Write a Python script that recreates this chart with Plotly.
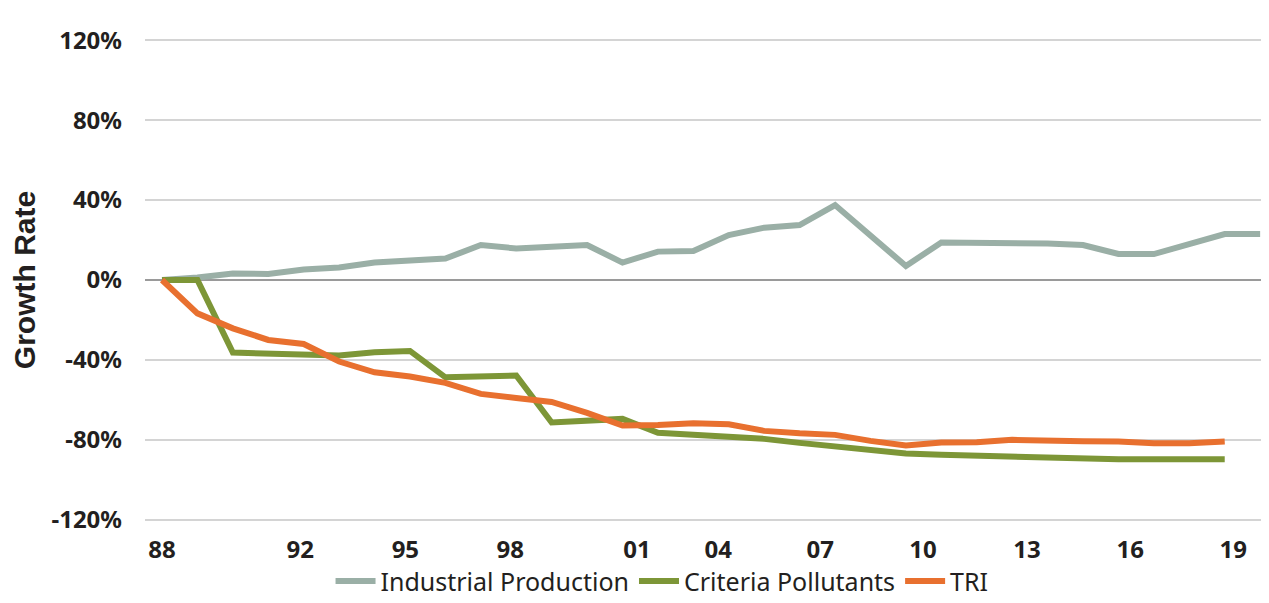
import plotly.graph_objects as go

# growth since 1988, in percent
years = list(range(1988, 2020))
industrial_production = [
    0, 1.2, 3.3, 3.0, 5.3, 6.3, 8.7, 10.0, 10.7, 17.5, 15.8, 16.7, 17.5,
    8.7, 14.2, 14.5, 22.5, 26.2, 27.5, 37.5, 22.0, 7.0, 18.8, 18.8, 18.8,
    18.3, 17.5, 13.0, 13.0, 18.0, 23.0, 23.0,
]
criteria_pollutants = [
    0, 0, -36.3, -36.7, -36.8, -37.8, -36.2, -35.5, -48.7, -48.3, -47.8,
    -71.3, -70.5, -69.5, -76.5, -77.3, -78.5, -79.5, -81.5, -83.5, -85.5,
    -86.8, -87.5, -88.0, -88.7, -89.0, -89.5, -89.7, -89.7, -89.7, -89.7,
]
tri = [
    0, -16.7, -24.2, -30.0, -32.0, -40.8, -46.2, -48.3, -51.5, -57.0, -59.0,
    -61.0, -66.5, -72.8, -72.5, -71.7, -72.2, -75.5, -76.7, -77.5, -80.5,
    -82.8, -81.3, -81.2, -80.0, -80.0, -80.7, -80.8, -81.7, -81.7, -80.8,
]

# x tick labels as they sit in the original (slightly off the year grid)
x_tick_text = ["88", "92", "95", "98", "01", "04", "07", "10", "13", "16", "19"]
x_tick_at = [1988.0, 1991.9, 1994.87, 1997.83, 2001.41, 2003.7, 2006.58,
             2009.48, 2012.42, 2015.33, 2018.24]
y_ticks = [-120, -80, -40, 0, 40, 80, 120]
y_tick_text = ["-120%", "-80%", "-40%", "0%", "40%", "80%", "120%"]

series = [
    ("Industrial Production", years, industrial_production, "#9aafa6"),
    ("Criteria Pollutants", years[:31], criteria_pollutants, "#7d9637"),
    ("TRI", years[:31], tri, "#e8702f"),
]

fig = go.Figure()
for name, xs, ys, color in series:
    fig.add_trace(
        go.Scatter(
            x=xs,
            y=ys,
            mode="lines",
            name=name,
            line=dict(color=color, width=6),
        )
    )

tick_font = dict(family="Noto Sans", size=24, color="#231f20", weight="bold")

fig.update_xaxes(
    range=[1987.52, 2019.25],
    tickvals=x_tick_at,
    ticktext=x_tick_text,
    tickfont=tick_font,
    showgrid=False,
    zeroline=False,
    ticks="",
    ticklabelstandoff=12,
    automargin=False,
)
fig.update_yaxes(
    range=[-120.6, 120.6],
    tickvals=y_ticks,
    ticktext=y_tick_text,
    tickfont=tick_font,
    showgrid=True,
    gridcolor="#d4d4d4",
    gridwidth=1.5,
    zeroline=True,
    zerolinecolor="#9a9a9a",
    zerolinewidth=1.5,
    ticks="",
    ticklabelstandoff=22,
    automargin=False,
    title=dict(
        text="Growth Rate",
        font=dict(family="Liberation Sans", size=30, color="#231f20", weight="bold"),
        standoff=8,
    ),
)

# page body has an 8px margin, so the figure is a bit smaller than the window
fig.update_layout(
    width=1261,
    height=595,
    margin=dict(l=137, r=0, t=31, b=82, autoexpand=False),
    plot_bgcolor="white",
    paper_bgcolor="white",
    showlegend=True,
    legend=dict(
        orientation="h",
        x=0.46,
        xanchor="center",
        y=-0.125,
        yanchor="middle",
        font=dict(family="Noto Sans", size=25, color="#231f20"),
        bgcolor="rgba(0,0,0,0)",
        itemwidth=40,
        tracegroupgap=0,
    ),
)

fig.write_html("out.html")
